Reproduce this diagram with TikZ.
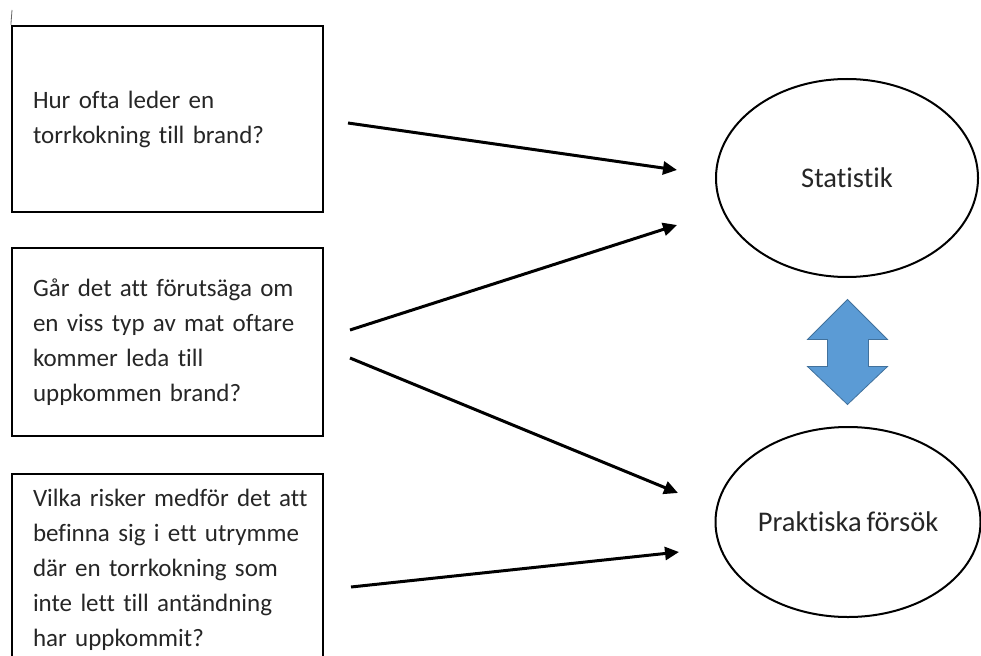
\documentclass[tikz,border=0pt]{standalone}
\usepackage{fontspec}
\setmainfont{Carlito}[Ligatures={NoCommon}, WordSpace=0.75]
\usepackage{xcolor}
\usetikzlibrary{shapes.geometric,arrows.meta,calc}
\definecolor{linkblue}{HTML}{5B9BD5}
\definecolor{linkedge}{HTML}{41719C}

\begin{document}
\begin{tikzpicture}[
    x=1pt, y=-1pt,
    box/.style={draw, rectangle, line width=2.2pt, minimum width=311pt, text width=290pt, inner xsep=10.5pt, align=left, execute at begin node={\leftskip=10.5pt}, font=\fontsize{25}{35}\selectfont, text=black!85},
    oval/.style={draw, ellipse, line width=2pt, inner sep=0pt, font=\fontsize{28.5}{32}\selectfont, text=black!85},
    arrow/.style={-{Triangle[length=14pt,width=13pt]}, line width=3pt}
]
    \fill[white] (0,0) rectangle (981,655);
    \clip (0,0) rectangle (981,655);

    % Questions
    \node[box, minimum height=186pt] (q1) at (167.5,119) {Hur ofta leder en\\torrkokning till brand?};
    \node[box, minimum height=188pt] (q2) at (167.5,342) {Går det att förutsäga om\\en viss typ av mat oftare\\kommer leda till\\uppkommen brand?};
    \node[box, minimum height=192pt] (q3) at (167.5,570) {Vilka risker medför det att\\befinna sig i ett utrymme\\där en torrkokning som\\inte lett till antändning\\har uppkommit?};
    \draw[line width=0.8pt, black!60] (12,10) -- (q1.north west);

    % Methods
    \node[oval, minimum width=262pt, minimum height=198pt] (stat) at (847,178) {Statistik};
    \node[oval, minimum width=265pt, minimum height=190pt] (prak) at (848,522) {Praktiska försök};

    % Arrow ends
    \coordinate (q1out) at (348,123);
    \coordinate (q2outa) at (350,330);
    \coordinate (q2outb) at (350,358);
    \coordinate (q3out) at (351,587);
    \coordinate (statina) at (677,170);
    \coordinate (statinb) at (677,225);
    \coordinate (prakina) at (678,493);
    \coordinate (prakinb) at (679,552);

    % Arrows
    \draw[arrow] (q1out) -- (statina);
    \draw[arrow] (q2outa) -- (statinb);
    \draw[arrow] (q2outb) -- (prakina);
    \draw[arrow] (q3out) -- (prakinb);

    % Link between methods
    \coordinate (link) at ($(stat.south)!0.5!(prak.north)$);
    \filldraw[fill=linkblue, draw=linkedge, line width=0.8pt]
        (link) ++(0,-52.5) -- ++(40,40) -- ++(-19,0) -- ++(0,27) -- ++(19,0)
        -- ++(-40,38) -- ++(-40,-38) -- ++(20,0) -- ++(0,-27) -- ++(-20,0) -- cycle;

\end{tikzpicture}
\end{document}
